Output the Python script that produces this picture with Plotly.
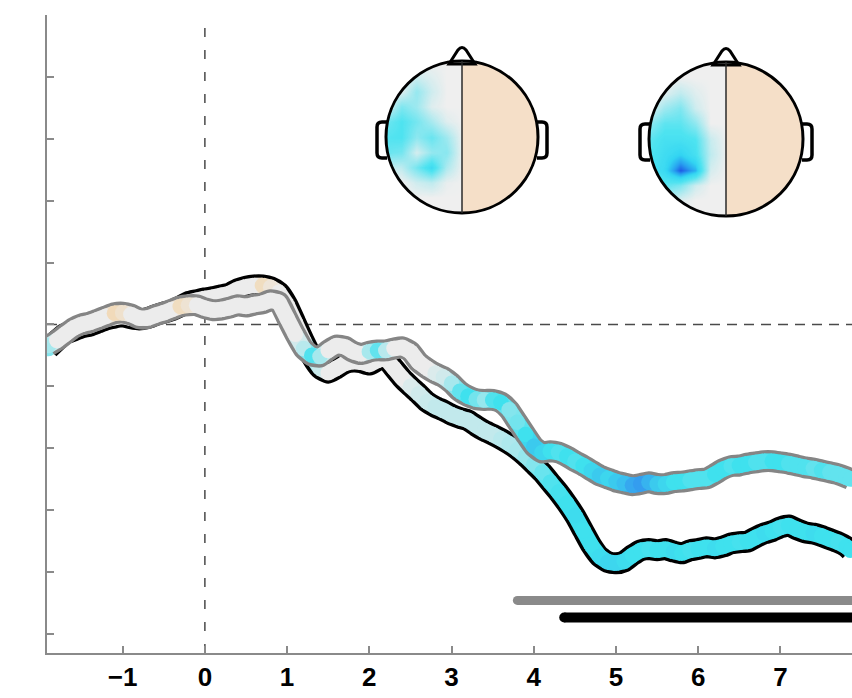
import numpy as np
import plotly.graph_objects as go
from plotly.colors import sample_colorscale

# ---------------------------------------------------------------- data
time_s = [-1.9, -1.8, -1.7, -1.6, -1.5, -1.4, -1.3, -1.2, -1.1, -1.0,
          -0.9, -0.8, -0.7, -0.6, -0.5, -0.4, -0.3, -0.2, -0.1, 0.0,
          0.1, 0.2, 0.3, 0.4, 0.5, 0.6, 0.7, 0.8, 0.9, 1.0,
          1.1, 1.2, 1.3, 1.4, 1.5, 1.6, 1.7, 1.8, 1.9, 2.0,
          2.1, 2.2, 2.3, 2.4, 2.5, 2.6, 2.7, 2.8, 2.9, 3.0,
          3.1, 3.2, 3.3, 3.4, 3.5, 3.6, 3.7, 3.8, 3.9, 4.0,
          4.1, 4.2, 4.3, 4.4, 4.5, 4.6, 4.7, 4.8, 4.9, 5.0,
          5.1, 5.2, 5.3, 5.4, 5.5, 5.6, 5.7, 5.8, 5.9, 6.0,
          6.1, 6.2, 6.3, 6.4, 6.5, 6.6, 6.7, 6.8, 6.9, 7.0,
          7.1, 7.2, 7.3, 7.4, 7.5, 7.6, 7.7, 7.8, 7.85]

# condition drawn with the black outline
cond_black = [-0.39, -0.26, -0.15, -0.10, -0.05, -0.02, 0.03, 0.08, 0.11, 0.13,
              0.10, 0.08, 0.10, 0.15, 0.19, 0.23, 0.29, 0.36, 0.39, 0.42,
              0.44, 0.47, 0.50, 0.57, 0.61, 0.63, 0.63, 0.60, 0.52, 0.32,
              0.03, -0.26, -0.52, -0.71, -0.78, -0.71, -0.63, -0.60, -0.61, -0.65,
              -0.58, -0.55, -0.71, -0.87, -1.00, -1.12, -1.25, -1.33, -1.39, -1.46,
              -1.51, -1.55, -1.64, -1.72, -1.78, -1.85, -1.93, -2.02, -2.13, -2.26,
              -2.39, -2.55, -2.71, -2.89, -3.09, -3.33, -3.57, -3.75, -3.84, -3.86,
              -3.83, -3.73, -3.65, -3.63, -3.65, -3.63, -3.67, -3.70, -3.65, -3.63,
              -3.60, -3.62, -3.59, -3.54, -3.52, -3.51, -3.44, -3.38, -3.34, -3.28,
              -3.25, -3.31, -3.36, -3.38, -3.42, -3.47, -3.52, -3.59, -3.65]

# condition drawn with the grey outline
cond_gray = [-0.34, -0.26, -0.16, -0.06, 0.00, 0.03, 0.08, 0.13, 0.18, 0.19,
             0.16, 0.10, 0.10, 0.15, 0.19, 0.24, 0.29, 0.31, 0.31, 0.26,
             0.23, 0.24, 0.27, 0.31, 0.29, 0.32, 0.34, 0.39, 0.36, 0.10,
             -0.16, -0.39, -0.50, -0.52, -0.42, -0.34, -0.36, -0.44, -0.48, -0.44,
             -0.42, -0.42, -0.39, -0.37, -0.44, -0.61, -0.71, -0.79, -0.85, -0.95,
             -1.08, -1.16, -1.21, -1.22, -1.22, -1.26, -1.38, -1.58, -1.78, -1.97,
             -2.07, -2.05, -2.07, -2.13, -2.21, -2.28, -2.36, -2.44, -2.49, -2.54,
             -2.57, -2.60, -2.58, -2.55, -2.58, -2.58, -2.55, -2.54, -2.52, -2.50,
             -2.49, -2.42, -2.34, -2.29, -2.28, -2.25, -2.23, -2.21, -2.21, -2.23,
             -2.25, -2.28, -2.31, -2.33, -2.36, -2.39, -2.42, -2.47, -2.50]

# per-sample effect (negative = decrease, positive = increase) used for colouring
eff_black = [-0.30, -0.10, 0, 0, 0, 0, 0, 0, 0, 0,
             0, 0, 0, 0, 0, 0, 0, 0, 0, 0,
             0, 0, 0, 0, 0, 0, 0.35, 0.15, 0, 0,
             0, 0, -0.25, -0.10, 0, 0, 0, 0, 0, 0,
             0, 0, 0, 0, -0.05, -0.08, -0.10, -0.12, -0.12, -0.12,
             -0.12, -0.12, -0.12, -0.12, -0.12, -0.15, -0.18, -0.20, -0.25, -0.30,
             -0.38, -0.45, -0.48, -0.50, -0.52, -0.50, -0.50, -0.52, -0.55, -0.55,
             -0.52, -0.50, -0.50, -0.48, -0.50, -0.50, -0.52, -0.50, -0.48, -0.50,
             -0.50, -0.52, -0.50, -0.50, -0.48, -0.50, -0.50, -0.52, -0.50, -0.48,
             -0.50, -0.50, -0.50, -0.52, -0.50, -0.50, -0.48, -0.50, -0.50]

eff_gray = [-0.20, 0, 0, 0, 0, 0, 0, 0, 0.40, 0.25,
            0, 0, 0, 0, 0, 0, 0.35, 0.20, 0, 0,
            0, 0, 0, 0, 0, 0, 0, 0, 0, 0,
            0, -0.15, -0.45, -0.20, 0, 0, 0, 0, 0, -0.20,
            -0.40, -0.15, 0, 0, 0, 0, 0, -0.05, -0.08, -0.20,
            -0.40, -0.50, -0.35, -0.25, -0.45, -0.50, -0.30, -0.35, -0.50, -0.60,
            -0.55, -0.50, -0.45, -0.50, -0.45, -0.50, -0.55, -0.60, -0.55, -0.60,
            -0.65, -0.75, -0.80, -0.70, -0.60, -0.55, -0.50, -0.50, -0.45, -0.45,
            -0.45, -0.50, -0.50, -0.45, -0.50, -0.50, -0.45, -0.45, -0.50, -0.50,
            -0.45, -0.45, -0.45, -0.40, -0.45, -0.40, -0.40, -0.40, -0.40]

# significant windows (start, end) in seconds
sig_gray = [3.80, 7.87]
sig_black = [4.37, 7.87]

x_ticks = [-1, 0, 1, 2, 3, 4, 5, 6, 7]
x_tick_labels = ["\u22121", "0", "1", "2", "3", "4", "5", "6", "7"]
y_ticks = [-5, -4, -3, -2, -1, 0, 1, 2, 3, 4, 5]

# scalp maps: left hemisphere sampled on a (row = front->back, col = lateral->midline) grid
topo_u = [-1.0, -0.8, -0.6, -0.4, -0.2, 0.0]
topo_v = [-1.0, -0.8, -0.6, -0.4, -0.2, 0.0, 0.2, 0.4, 0.6, 0.8, 1.0]
topo_early = [
    [0.00, 0.00, 0.00, 0.00, 0.00, 0.00],
    [0.00, 0.00, 0.10, 0.05, 0.00, 0.00],
    [0.00, 0.05, 0.28, 0.10, 0.00, 0.00],
    [0.05, 0.35, 0.25, 0.05, 0.00, 0.00],
    [0.40, 0.50, 0.38, 0.22, 0.05, 0.00],
    [0.48, 0.50, 0.30, 0.42, 0.25, 0.00],
    [0.42, 0.38, 0.08, 0.28, 0.32, 0.00],
    [0.12, 0.15, 0.38, 0.62, 0.20, 0.00],
    [0.00, 0.00, 0.10, 0.15, 0.02, 0.00],
    [0.00, 0.00, 0.00, 0.00, 0.00, 0.00],
    [0.00, 0.00, 0.00, 0.00, 0.00, 0.00],
]
topo_late = [
    [0.00, 0.00, 0.00, 0.00, 0.00, 0.00],
    [0.00, 0.00, 0.00, 0.00, 0.00, 0.00],
    [0.00, 0.05, 0.15, 0.05, 0.00, 0.00],
    [0.05, 0.25, 0.35, 0.10, 0.00, 0.00],
    [0.30, 0.45, 0.45, 0.30, 0.00, 0.00],
    [0.45, 0.55, 0.55, 0.50, 0.12, 0.00],
    [0.50, 0.60, 0.70, 0.55, 0.15, 0.00],
    [0.50, 0.65, 1.00, 0.80, 0.08, 0.00],
    [0.40, 0.45, 0.35, 0.10, 0.00, 0.00],
    [0.10, 0.15, 0.05, 0.00, 0.00, 0.00],
    [0.00, 0.00, 0.00, 0.00, 0.00, 0.00],
]

# ---------------------------------------------------------------- styling
W, H = 852, 698
M_L, M_R, M_T, M_B = 47, 0, 15, 45
X_RANGE = [-1.92, 7.87]
Y_RANGE = [-5.31, 5.0]
AXIS_GREY = "#8a8a8a"
BAR_Y_GRAY = -4.46
BAR_Y_BLACK = -4.735
BAND_OUTER, BAND_INNER = 22, 15.5

trace_scale = [[0.0, "#2c6ff0"], [0.25, "#3fe1ee"], [0.5, "#ececec"],
               [0.75, "#f2d6ad"], [1.0, "#e8a84e"]]
topo_scale = [[0.0, "rgba(60,225,240,0)"], [0.25, "rgba(60,225,240,0.45)"],
              [0.5, "rgba(55,225,240,0.88)"], [0.7, "rgb(50,212,242)"],
              [0.85, "rgb(40,160,240)"], [1.0, "rgb(30,90,230)"]]

fig = go.Figure()


def eff_color(e):
    return sample_colorscale(trace_scale, [(e + 1) / 2])[0]


def add_band(y, eff, outline):
    # outline, then a coloured core made of short segments plus round joints
    fig.add_trace(go.Scatter(x=time_s, y=y, mode="lines",
                             line=dict(color=outline, width=BAND_OUTER,
                                       shape="spline", smoothing=0.5),
                             hoverinfo="skip", showlegend=False))
    for i in range(len(time_s) - 1):
        fig.add_trace(go.Scatter(x=time_s[i:i + 2], y=y[i:i + 2], mode="lines",
                                 line=dict(color=eff_color((eff[i] + eff[i + 1]) / 2),
                                           width=BAND_INNER),
                                 hoverinfo="skip", showlegend=False))
    fig.add_trace(go.Scatter(x=time_s, y=y, mode="markers",
                             marker=dict(size=BAND_INNER, color=eff, colorscale=trace_scale,
                                         cmin=-1, cmax=1, line=dict(width=0)),
                             hoverinfo="skip", showlegend=False))


add_band(cond_black, eff_black, "#000000")
add_band(cond_gray, eff_gray, "#858585")


def add_bar(span, ybar, color, width):
    fig.add_trace(go.Scatter(x=span, y=[ybar, ybar], mode="lines",
                             line=dict(color=color, width=width),
                             hoverinfo="skip", showlegend=False))
    fig.add_trace(go.Scatter(x=[span[0]], y=[ybar], mode="markers",
                             marker=dict(color=color, size=width, line=dict(width=0)),
                             hoverinfo="skip", showlegend=False))


add_bar(sig_gray, BAR_Y_GRAY, "#8a8a8a", 9)
add_bar(sig_black, BAR_Y_BLACK, "#000000", 10)

# ---------------------------------------------------------------- scalp maps
# a hidden pixel-unit axis pair over the plot area holds the head drawings
PX_X = [M_L, W - M_R]
PX_Y = [H - M_B, M_T]


def arc_pts(cx, cy, r, t0, t1, n):
    t = np.linspace(t0, t1, n)
    return [(cx + r * np.cos(a), cy + r * np.sin(a)) for a in t]


def to_path(pts, close=True):
    s = "M " + " L ".join(f"{x:.2f},{y:.2f}" for x, y in pts)
    return s + (" Z" if close else "")


shapes = []
heads = [(462, 137, 76, topo_early), (726, 139, 77, topo_late)]
for cx, cy, r, grid in heads:
    left = arc_pts(cx, cy, r, np.pi / 2, 3 * np.pi / 2, 90)
    right = arc_pts(cx, cy, r, -np.pi / 2, np.pi / 2, 90)
    shapes.append(dict(type="path", xref="x2", yref="y2", layer="below",
                       path=to_path(left), fillcolor="#efefef", line=dict(width=0)))
    shapes.append(dict(type="path", xref="x2", yref="y2", layer="below",
                       path=to_path(right), fillcolor="#f5dfc8", line=dict(width=0)))

    fig.add_trace(go.Heatmap(x=[cx + u * r for u in topo_u],
                             y=[cy + v * r for v in topo_v],
                             z=grid, zmin=0, zmax=1, zsmooth="best",
                             colorscale=topo_scale, showscale=False,
                             hoverinfo="skip", xaxis="x2", yaxis="y2"))

    # white ring hides anything of the map outside the scalp
    ring = (to_path(arc_pts(cx, cy, r + 45, 0, 2 * np.pi, 160)) + " " +
            to_path(arc_pts(cx, cy, r, 0, 2 * np.pi, 160)))
    shapes.append(dict(type="path", xref="x2", yref="y2", layer="above",
                       path=ring, fillcolor="white", fillrule="evenodd",
                       line=dict(width=0)))
    # ears
    for side in (-1, 1):
        xo = cx + side * (r + 9)
        xi = cx + side * (r - 1)
        y0, y1 = cy - 15, cy + 21
        k = side * 5
        ear = (f"M {xi},{y0} L {xo - k},{y0} Q {xo},{y0} {xo},{y0 + 5} "
               f"L {xo},{y1 - 5} Q {xo},{y1} {xo - k},{y1} L {xi},{y1}")
        shapes.append(dict(type="path", xref="x2", yref="y2", layer="above",
                           path=ear, fillcolor="white",
                           line=dict(color="black", width=3.5)))
    # nose
    nose = (f"M {cx - 13},{cy - r + 3} L {cx - 4},{cy - r - 11} "
            f"Q {cx},{cy - r - 16} {cx + 4},{cy - r - 11} L {cx + 13},{cy - r + 3} Z")
    shapes.append(dict(type="path", xref="x2", yref="y2", layer="above",
                       path=nose, fillcolor="white", line=dict(color="black", width=3)))
    shapes.append(dict(type="circle", xref="x2", yref="y2", layer="above",
                       x0=cx - r, x1=cx + r, y0=cy - r, y1=cy + r,
                       line=dict(color="black", width=3)))
    shapes.append(dict(type="line", xref="x2", yref="y2", layer="above",
                       x0=cx, x1=cx, y0=cy - r, y1=cy + r,
                       line=dict(color="#2a2a2a", width=1.5)))

# reference lines at onset and baseline
shapes.append(dict(type="line", xref="x", yref="paper", layer="below",
                   x0=0, x1=0, y0=0, y1=1,
                   line=dict(color="#4a4a4a", width=1.5, dash="9px,13px")))
shapes.append(dict(type="line", xref="paper", yref="y", layer="below",
                   x0=0, x1=1, y0=0, y1=0,
                   line=dict(color="#4a4a4a", width=1.5, dash="10px,7px")))

fig.update_layout(
    width=W, height=H,
    margin=dict(l=M_L, r=M_R, t=M_T, b=M_B, pad=0),
    paper_bgcolor="white", plot_bgcolor="white",
    hovermode=False, showlegend=False,
    shapes=shapes,
    xaxis=dict(range=X_RANGE, showgrid=False, zeroline=False,
               showline=True, linecolor=AXIS_GREY, linewidth=1.5,
               ticks="inside", ticklen=7, tickwidth=1.5, tickcolor=AXIS_GREY,
               tickvals=x_ticks, ticktext=x_tick_labels, ticklabelstandoff=0,
               tickfont=dict(family="Liberation Sans", size=26, color="black",
                             weight="bold")),
    yaxis=dict(range=Y_RANGE, showgrid=False, zeroline=False,
               showline=True, linecolor=AXIS_GREY, linewidth=1.5,
               ticks="inside", ticklen=7, tickwidth=1.5, tickcolor=AXIS_GREY,
               tickvals=y_ticks, showticklabels=False),
    xaxis2=dict(range=PX_X, overlaying="x", visible=False, anchor="y2"),
    yaxis2=dict(range=PX_Y, overlaying="y", visible=False, anchor="x2"),
)

fig.write_html("out.html")
